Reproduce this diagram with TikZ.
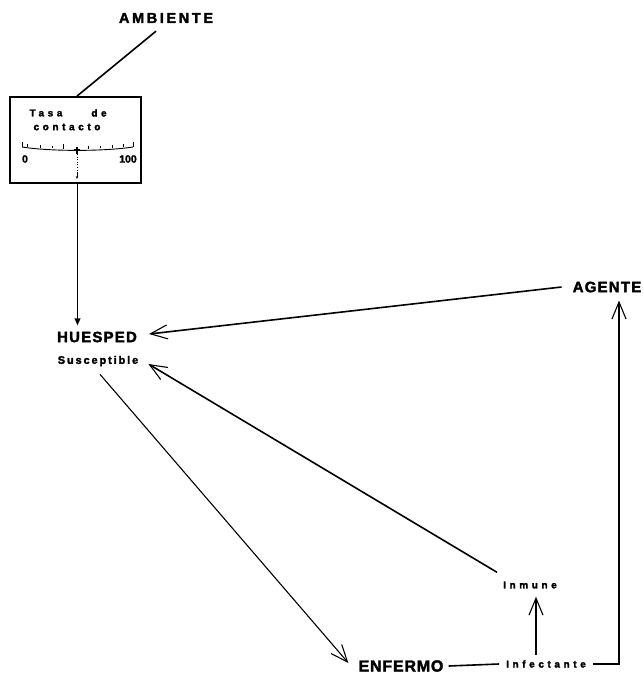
\documentclass[tikz,border=0pt]{standalone}
\usepackage{fontspec}
\setmainfont{Liberation Sans}[BoldFeatures={FakeBold=2.2}]
\newfontfamily\lettA{Liberation Sans}[LetterSpace=18, BoldFeatures={FakeBold=2.2}]
\newfontfamily\lettB{Liberation Sans}[LetterSpace=8, BoldFeatures={FakeBold=2.2}]
\newfontfamily\lettC{Liberation Sans}[LetterSpace=5, BoldFeatures={FakeBold=2.2}]
\newfontfamily\lettS{Liberation Sans}[LetterSpace=17, BoldFeatures={FakeBold=2.2}]
\newfontfamily\lettW{Liberation Sans}[LetterSpace=36, BoldFeatures={FakeBold=2.2}]
\newfontfamily\lettM{Liberation Sans}[LetterSpace=36, BoldFeatures={FakeBold=2.2}]
\usetikzlibrary{arrows.meta,calc}
\begin{document}
\begin{tikzpicture}[x=1pt,y=-1pt,
  lbl/.style={inner sep=0pt, font=\bfseries},
  link/.style={line width=1.6pt},
  barb/.style={link, -{Straight Barb[length=17pt,width=14pt,line width=1.1pt]}},
  solidtip/.style={link, -{Triangle[length=7pt,width=5.5pt]}},
  tick/.style={line width=0.7pt}]
\useasboundingbox (0,0) rectangle (644,675);

% labels
\node[lbl, font=\lettA\bfseries\fontsize{14.5}{16}\selectfont] (ambiente) at (166,18) {AMBIENTE};
\node[lbl, font=\lettB\bfseries\fontsize{15}{17}\selectfont] (huesped) at (97,337) {HUESPED};
\node[lbl, font=\lettS\bfseries\fontsize{11}{13}\selectfont] (suscept) at (98,361) {Susceptible};
\node[lbl, font=\lettB\bfseries\fontsize{15}{17}\selectfont] (agente) at (607,287) {AGENTE};
\node[lbl, font=\lettC\bfseries\fontsize{16}{18}\selectfont] (enfermo) at (401,666) {ENFERMO};
\node[lbl, font=\lettW\bfseries\fontsize{10}{12}\selectfont] (infect) at (546,664) {Infectante};
\node[lbl, font=\lettW\bfseries\fontsize{10}{12}\selectfont] (inmune) at (530,585) {Inmune};

% contact-rate meter
\node[draw, line width=1.8pt, minimum width=131pt, minimum height=86pt, inner sep=0pt] (meter) at (75.5,140) {};
\node[lbl, font=\lettM\bfseries\fontsize{10}{12}\selectfont] (tasa) at (46,113) {Tasa};
\node[lbl, font=\lettM\bfseries\fontsize{10}{12}\selectfont] (de) at (99,113) {de};
\node[lbl, font=\lettM\bfseries\fontsize{10}{12}\selectfont] (contacto) at (67,127) {contacto};
\node[lbl, font=\bfseries\fontsize{10.5}{12}\selectfont] (zero) at (25,159) {0};
\node[lbl, font=\bfseries\fontsize{10.5}{12}\selectfont] (cien) at (128,159) {100};
% scale
\draw[line width=0.9pt] (22,147) .. controls (50,151.5) and (104,151.5) .. (133,147);
\draw[line width=0.9pt] (22,147) -- (22,142) (133,147) -- (133,142);
\foreach \x/\y in {27/148, 40/149, 52/149.6, 88/150, 100/149.6, 112/149, 123/148}
  \draw[tick] (\x,\y-1.5) -- (\x,\y-4);
\draw[tick] (63,148.5) -- (63,143.5);
% pointer
\draw[line width=1.1pt] (74,150) -- (80,150) (77,146.5) -- (77,153.5);
\draw[line width=0.6pt, dotted] (77,154) -- (77,173);
\draw[line width=0.7pt, -{Stealth[length=3pt,width=2.5pt]}] (77,172) -- (77,179);

% connectors
\draw[link] ([xshift=-10pt,yshift=-8pt]ambiente.south) -- ([xshift=1.5pt]meter.north);
\draw[solidtip] ([xshift=2pt]meter.south) -- ($([xshift=2pt]meter.south |- huesped.north)+(0,-6)$);
\draw[barb] ([xshift=-11pt]agente.west) -- ([xshift=12pt,yshift=3pt]huesped.east);
\draw[barb] ([xshift=-6pt,yshift=9pt]inmune.north west) -- ([xshift=10pt,yshift=-3pt]suscept.east);
\draw[barb, line width=1.1pt] ([xshift=2pt,yshift=-8pt]suscept.south) -- ([xshift=-10pt,yshift=3pt]enfermo.west);
\draw[link] ([xshift=5pt]enfermo.east) -- ([xshift=-7pt]infect.west);
\coordinate (rise) at ($(infect.north)+(-10,-5)$);
\draw[barb] (rise) -- ($(rise |- inmune.south)+(0,8)$);
\draw[barb] ([xshift=7pt]infect.east) -| ($(agente.south)+(12,8)$);
\end{tikzpicture}
\end{document}
